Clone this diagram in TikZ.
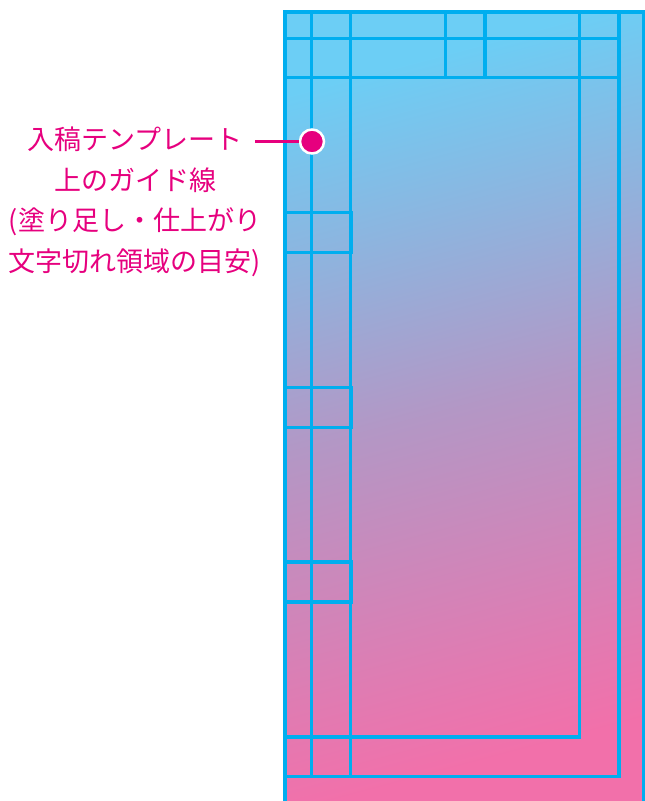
\documentclass[tikz,border=0pt]{standalone}
\usepackage{fontspec}
\newfontfamily\jpfont{Noto Sans CJK JP}
\definecolor{guidecyan}{RGB}{0,174,239}
\definecolor{guidepink}{RGB}{230,0,126}
\definecolor{pagetop}{RGB}{108,206,245}
\definecolor{pagebottom}{RGB}{242,112,170}
\tikzset{
  guide/.style={guidecyan, line width=3.8pt, line cap=rect},
  pindot/.style={circle, fill=guidepink, draw=white, line width=2.5pt, minimum size=24pt, inner sep=0pt},
}
\begin{document}
\begin{tikzpicture}[x=1pt,y=-1pt]

        \useasboundingbox (0,0) rectangle (645,801);
        \clip (0,0) rectangle (645,801);

        \shade[top color=pagetop, bottom color=pagebottom, middle color=pagetop!50!pagebottom!95!red, shading angle=15] (285,12) rectangle (645,801);

        \draw[guide] (285,801) -- (285,12) -- (643.5,12) -- (643.5,801);

        \draw[guide] (285,38.5) -- (619,38.5);
        \draw[guide] (285,77.5) -- (619,77.5);
        \draw[guide] (285,737) -- (579.5,737);
        \draw[guide] (285,776.5) -- (619,776.5);

        \draw[guide] (311.5,12) -- (311.5,776.5);
        \draw[guide] (350.5,12) -- (350.5,776.5);
        \draw[guide] (579.5,12) -- (579.5,737);
        \draw[guide] (619,12) -- (619,776.5);
        \draw[guide] (445.5,12) -- (445.5,77.5);
        \draw[guide] (485,12) -- (485,77.5);

        \foreach \y in {212.5,387.5,562}
          \draw[guide] (285,\y) rectangle (351,\y+40);

        \node[text=guidepink, font=\jpfont\fontsize{27}{40.5}\selectfont, align=center] (note) at (135,202)
          {入稿テンプレート\\上のガイド線\\(塗り足し・仕上がり\\文字切れ領域の目安)};

        \coordinate (lead) at (255,141.5);
        \node[pindot] (pin) at (312,141.5) {};
        \draw[guidepink, line width=3pt] (lead) -- (pin);

\end{tikzpicture}
\end{document}
